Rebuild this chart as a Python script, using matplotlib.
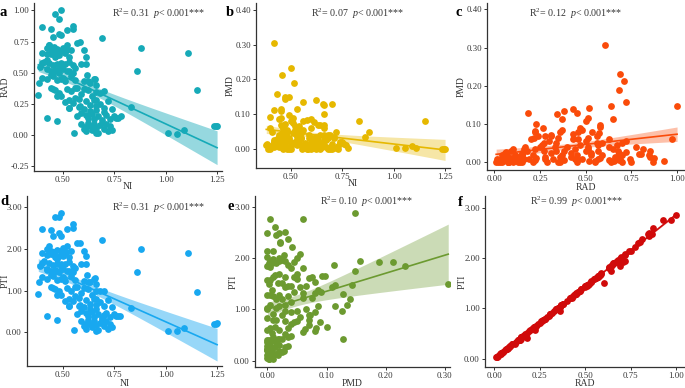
import numpy as np
import matplotlib
matplotlib.use('Agg')
import matplotlib.pyplot as plt

plt.rcParams['font.family'] = ['Liberation Serif', 'DejaVu Serif']
plt.rcParams['mathtext.fontset'] = 'custom'
plt.rcParams['mathtext.rm'] = 'Liberation Serif'
plt.rcParams['mathtext.it'] = 'Liberation Serif:italic'

# ---- data (one row per sample) ----
NI = [0.49, 0.46, 0.48, 0.40, 0.44, 0.55, 0.55, 0.52, 0.48, 0.49,
      0.69, 0.45, 0.585, 0.88, 1.11, 0.86, 1.15, 0.83, 1.01, 1.055,
      1.09, 1.235, 1.245, 1.25, 0.78, 0.76, 0.42, 0.50, 0.455, 0.515,
      0.43, 0.47, 0.47, 0.62, 0.56, 0.66, 0.70, 0.655, 0.53, 0.42,
      0.45, 0.45, 0.40, 0.49, 0.51, 0.66, 0.58, 0.50, 0.44, 0.56,
      0.60, 0.53, 0.66, 0.47, 0.61,
      0.42, 0.44, 0.455, 0.47, 0.49, 0.50, 0.52, 0.54, 0.44, 0.46,
      0.48, 0.51, 0.53, 0.60, 0.61, 0.40, 0.57, 0.43, 0.41, 0.43,
      0.45, 0.47, 0.49, 0.51, 0.53, 0.55, 0.59, 0.42, 0.44, 0.46,
      0.48, 0.50, 0.52, 0.55, 0.615, 0.39, 0.40, 0.42, 0.45, 0.47,
      0.49, 0.51, 0.54, 0.56, 0.60, 0.63, 0.65, 0.66, 0.385, 0.44,
      0.46, 0.48, 0.38, 0.52, 0.54, 0.57, 0.59, 0.62, 0.64, 0.68,
      0.70, 0.49, 0.56, 0.53, 0.55, 0.58, 0.61, 0.63, 0.65, 0.68,
      0.70, 0.72, 0.74, 0.53, 0.60, 0.66, 0.585, 0.42, 0.47, 0.59,
      0.61, 0.62, 0.64, 0.65, 0.67, 0.69, 0.71, 0.73, 0.75, 0.77,
      0.63, 0.57, 0.555, 0.60, 0.61, 0.63, 0.64, 0.65, 0.66, 0.67,
      0.68, 0.70, 0.71, 0.72, 0.73, 0.74, 0.62, 0.69, 0.59, 0.66,
      0.605]

RAD = [1.00, 0.97, 0.93, 0.87, 0.85, 0.875, 0.85, 0.845, 0.815, 0.80,
       0.775, 0.79, 0.75, 0.70, 0.655, 0.51, 0.36, 0.225, 0.015, 0.01,
       0.04, 0.075, 0.075, 0.075, 0.15, 0.14, 0.605, 0.69, 0.71, 0.68,
       0.72, 0.64, 0.52, 0.43, 0.38, 0.343, 0.183, 0.453, 0.514, 0.65,
       0.50, 0.37, 0.58, 0.576, 0.264, 0.229, 0.224, 0.46, 0.48, 0.535,
       0.37, 0.215, 0.28, 0.31, 0.572,
       0.70, 0.68, 0.67, 0.69, 0.675, 0.70, 0.72, 0.68, 0.65, 0.63,
       0.64, 0.66, 0.63, 0.68, 0.63, 0.66, 0.74, 0.72, 0.59, 0.58,
       0.56, 0.57, 0.55, 0.57, 0.59, 0.56, 0.57, 0.53, 0.51, 0.52,
       0.50, 0.53, 0.51, 0.50, 0.48, 0.55, 0.46, 0.45, 0.47, 0.44,
       0.45, 0.43, 0.47, 0.44, 0.43, 0.42, 0.45, 0.40, 0.42, 0.38,
       0.36, 0.34, 0.32, 0.37, 0.35, 0.38, 0.33, 0.36, 0.31, 0.34,
       0.35, 0.31, 0.30, 0.28, 0.26, 0.29, 0.27, 0.24, 0.28, 0.25,
       0.22, 0.27, 0.21, 0.22, 0.21, 0.20, 0.23, 0.14, 0.115, 0.18,
       0.16, 0.14, 0.17, 0.13, 0.15, 0.12, 0.16, 0.13, 0.15, 0.14,
       0.19, 0.15, 0.02, 0.05, 0.03, 0.07, 0.04, 0.09, 0.06, 0.02,
       0.08, 0.05, 0.09, 0.03, 0.07, 0.04, 0.10, 0.10, 0.09, 0.015,
       0.065]

PMD = [0.148, 0.060, 0.004, 0.000, 0.015, 0.012, 0.030, 0.020, 0.035, 0.022,
       0.041, 0.022, 0.000, 0.050, 0.003, 0.035, 0.080, 0.080, 0.003, 0.002,
       0.008, 0.000, 0.000, 0.001, 0.002, 0.013, 0.306, 0.232, 0.212, 0.189,
       0.157, 0.148, 0.143, 0.140, 0.134, 0.126, 0.128, 0.128, 0.115, 0.113,
       0.109, 0.114, 0.093, 0.098, 0.089, 0.100, 0.083, 0.080, 0.085, 0.080,
       0.085, 0.063, 0.070, 0.072, 0.076,
       0.020, 0.005, 0.045, 0.010, 0.030, 0.000, 0.055, 0.025, 0.035, 0.060,
       0.000, 0.015, 0.040, 0.020, 0.005, 0.008, 0.010, 0.028, 0.050, 0.012,
       0.070, 0.030, 0.004, 0.045, 0.020, 0.050, 0.010, 0.025, 0.040, 0.003,
       0.055, 0.018, 0.065, 0.030, 0.008, 0.000, 0.060, 0.020, 0.090, 0.035,
       0.000, 0.075, 0.045, 0.010, 0.060, 0.025, 0.005, 0.040, 0.015, 0.030,
       0.000, 0.050, 0.010, 0.020, 0.065, 0.005, 0.040, 0.015, 0.070, 0.030,
       0.000, 0.025, 0.055, 0.010, 0.045, 0.000, 0.030, 0.070, 0.015, 0.040,
       0.005, 0.050, 0.020, 0.035, 0.000, 0.060, 0.012, 0.005, 0.020, 0.030,
       0.010, 0.000, 0.040, 0.015, 0.025, 0.005, 0.035, 0.000, 0.020, 0.010,
       0.008, 0.018, 0.000, 0.010, 0.003, 0.020, 0.000, 0.012, 0.025, 0.005,
       0.000, 0.015, 0.030, 0.002, 0.008, 0.018, 0.035, 0.000, 0.006, 0.010,
       0.028]

PTI = [2.87, 2.76, 2.77, 2.48, 2.45, 2.60, 2.50, 2.48, 2.38, 2.32,
       2.22, 2.30, 2.14, 2.01, 1.90, 1.45, 0.96, 0.58, 0.04, 0.03,
       0.10, 0.21, 0.21, 0.22, 0.40, 0.38, 1.50, 1.84, 1.93, 1.92,
       1.95, 1.75, 1.48, 1.20, 1.08, 0.98, 0.42, 1.30, 1.47, 1.86,
       1.43, 1.06, 1.66, 1.65, 0.76, 0.66, 0.64, 1.32, 1.38, 1.54,
       1.06, 0.62, 0.80, 0.89, 1.64,
       2.00, 1.95, 1.92, 1.98, 1.94, 2.02, 2.08, 1.96, 1.87, 1.81,
       1.84, 1.90, 1.81, 1.95, 1.82, 1.90, 2.14, 2.06, 1.70, 1.67,
       1.61, 1.63, 1.58, 1.64, 1.69, 1.60, 1.63, 1.52, 1.46, 1.49,
       1.44, 1.52, 1.46, 1.44, 1.38, 1.58, 1.32, 1.29, 1.35, 1.26,
       1.29, 1.23, 1.35, 1.26, 1.23, 1.21, 1.29, 1.15, 1.21, 1.09,
       1.03, 0.98, 0.92, 1.06, 1.00, 1.09, 0.95, 1.03, 0.89, 0.98,
       1.00, 0.89, 0.86, 0.80, 0.75, 0.83, 0.77, 0.69, 0.80, 0.72,
       0.63, 0.77, 0.60, 0.63, 0.60, 0.57, 0.66, 0.38, 0.30, 0.52,
       0.46, 0.40, 0.49, 0.37, 0.43, 0.34, 0.46, 0.37, 0.43, 0.40,
       0.55, 0.43, 0.05, 0.14, 0.09, 0.20, 0.12, 0.26, 0.17, 0.06,
       0.23, 0.14, 0.26, 0.09, 0.20, 0.12, 0.29, 0.29, 0.26, 0.04,
       0.19]

PANEL_LETTERS = ['a', 'b', 'c', 'd', 'e', 'f']
R2_TEXT = ['0.31', '0.07', '0.12', '0.31', '0.10', '0.99']

# ================= 画布 =================
W, H = 685, 388
fig = plt.figure(figsize=(W / 100, H / 100), dpi=100)


def add_ax(l, r, t, b):
    """像素坐标(左上原点) -> figure坐标"""
    return fig.add_axes([l / W, 1 - b / H, (r - l) / W, (b - t) / H])


def ftext(x, y, s, **kw):
    fig.text(x / W, 1 - y / H, s, **kw)


def style_ax(ax, xlim, ylim, xticks, yticks):
    for s in ['top', 'right']:
        ax.spines[s].set_visible(False)
    for s in ['left', 'bottom']:
        ax.spines[s].set_color('#333333')
        ax.spines[s].set_linewidth(0.9)
    ax.set_xlim(*xlim)
    ax.set_ylim(*ylim)
    ax.set_xticks(xticks)
    ax.set_yticks(yticks)
    ax.set_xticklabels([f'{v:.2f}' for v in xticks])
    ax.set_yticklabels([f'{v:.2f}' for v in yticks])
    ax.tick_params(labelsize=6.3, length=2.5, width=0.7, color='#333333',
                   labelcolor='#333333', pad=1.2)


def draw_reg(ax, x, y, color, band_alpha):
    x = np.asarray(x)
    y = np.asarray(y)
    n = len(x)
    b1, b0 = np.polyfit(x, y, 1)
    resid = y - (b0 + b1 * x)
    s = np.sqrt(np.sum(resid ** 2) / (n - 2))
    sxx = np.sum((x - x.mean()) ** 2)
    xs = np.linspace(x.min(), x.max(), 100)
    yh = b0 + b1 * xs
    se = s * np.sqrt(1 / n + (xs - x.mean()) ** 2 / sxx)
    ax.fill_between(xs, yh - 1.97 * se, yh + 1.97 * se, color=color,
                    alpha=band_alpha, linewidth=0, zorder=3)
    ax.plot(xs, yh, color=color, linewidth=1.2, zorder=4)


# (x数据, y数据, 颜色, 带透明度, 像素框, xlim, ylim, xticks, yticks, xlabel, ylabel)
panels = [
    (NI, RAD, '#16AAB8', 0.45, (34, 222, 3, 171), (0.359, 1.274), (-0.289, 1.06),
     [0.5, 0.75, 1.0, 1.25], [-0.25, 0, 0.25, 0.5, 0.75, 1.0], 'NI', 'RAD'),
    (NI, PMD, '#E6B800', 0.35, (256, 450, 3, 168), (0.33, 1.274), (-0.055, 0.42),
     [0.5, 0.75, 1.0, 1.25], [0, 0.1, 0.2, 0.3, 0.4], 'NI', 'PMD'),
    (RAD, PMD, '#FA4B0A', 0.35, (487, 684, 3, 170), (-0.04, 1.038), (-0.02, 0.417),
     [0, 0.25, 0.5, 0.75, 1.0], [0, 0.1, 0.2, 0.3, 0.4], 'RAD', 'PMD'),
    (NI, PTI, '#18A8F0', 0.45, (27, 222, 196, 366), (0.325, 1.274), (-0.81, 3.27),
     [0.5, 0.75, 1.0, 1.25], [0, 1, 2, 3], 'NI', 'PTI'),
    (PMD, PTI, '#6C9A30', 0.35, (255, 450, 196, 367), (-0.021, 0.309), (-0.12, 3.21),
     [0, 0.1, 0.2, 0.3], [0, 1, 2, 3], 'PMD', 'PTI'),
    (RAD, PTI, '#D00A0A', 0.35, (485, 684, 196, 367), (-0.05, 1.044), (-0.165, 3.24),
     [0, 0.25, 0.5, 0.75, 1.0], [0, 1, 2, 3], 'RAD', 'PTI'),
]

# 文字位置(像素): 字母, R2文本, y轴标题x, x轴标题y
letter_pos = [(0, 12), (226, 13), (455, 13), (0, 201), (227, 206), (458, 202)]
r2_pos = [(112, 14), (311, 14), (529, 14), (112, 208), (320, 202), (530, 202)]
ylab_x = [5, 230, 461, 5, 233, 462]
xlab_y = [186, 184, 187, 383, 384, 384]

for i, (xd, yd, col, ba, box, xl, yl, xt, yt, xlab, ylab) in enumerate(panels):
    ax = add_ax(*box)
    ax.scatter(xd, yd, s=24, color=col, linewidths=0, zorder=2)
    draw_reg(ax, xd, yd, col, ba)
    style_ax(ax, xl, yl, xt, yt)
    l, r, t, b = box
    ftext(letter_pos[i][0], letter_pos[i][1], PANEL_LETTERS[i], fontsize=10.5,
          fontweight='bold', va='center', ha='left')
    ftext(r2_pos[i][0], r2_pos[i][1],
          r'R$^{2}$= ' + R2_TEXT[i] + r'  $\mathit{p}$< 0.001***',
          fontsize=7.2, color='#333333', va='center', ha='left')
    ftext(ylab_x[i], (t + b) / 2, ylab, fontsize=6.9, rotation=90,
          va='center', ha='center', color='#333333')
    ftext((l + r) / 2, xlab_y[i], xlab, fontsize=6.9, va='center',
          ha='center', color='#333333')

fig.savefig('out.png', dpi=100)
